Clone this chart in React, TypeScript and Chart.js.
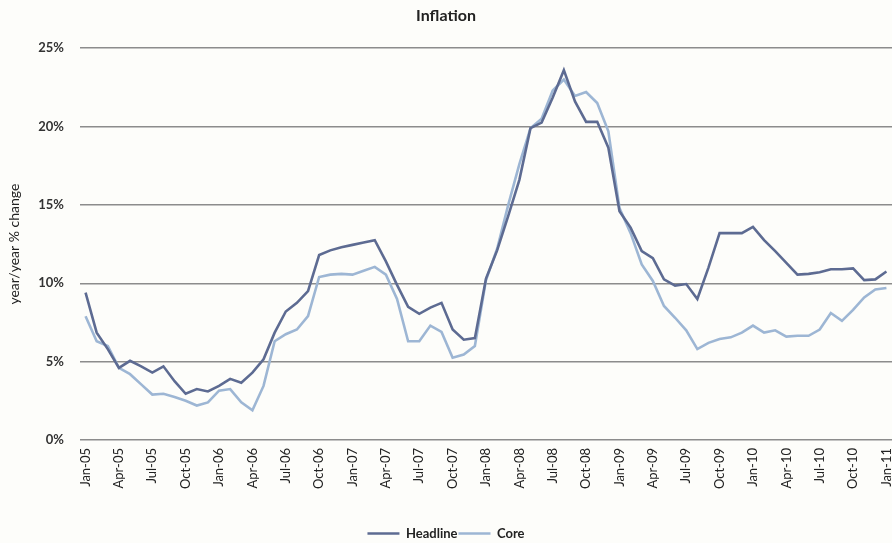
import React, { useEffect, useRef } from "react";
import { Chart, registerables } from "chart.js";

Chart.register(...registerables);

const months: string[] = [
  "Jan-05","Feb-05","Mar-05","Apr-05","May-05","Jun-05","Jul-05","Aug-05","Sep-05","Oct-05","Nov-05","Dec-05",
  "Jan-06","Feb-06","Mar-06","Apr-06","May-06","Jun-06","Jul-06","Aug-06","Sep-06","Oct-06","Nov-06","Dec-06",
  "Jan-07","Feb-07","Mar-07","Apr-07","May-07","Jun-07","Jul-07","Aug-07","Sep-07","Oct-07","Nov-07","Dec-07",
  "Jan-08","Feb-08","Mar-08","Apr-08","May-08","Jun-08","Jul-08","Aug-08","Sep-08","Oct-08","Nov-08","Dec-08",
  "Jan-09","Feb-09","Mar-09","Apr-09","May-09","Jun-09","Jul-09","Aug-09","Sep-09","Oct-09","Nov-09","Dec-09",
  "Jan-10","Feb-10","Mar-10","Apr-10","May-10","Jun-10","Jul-10","Aug-10","Sep-10","Oct-10","Nov-10","Dec-10",
  "Jan-11",
];

const headline: number[] = [
  9.4, 6.85, 5.8, 4.6, 5.05, 4.7, 4.3, 4.7, 3.75, 2.95, 3.25, 3.1,
  3.45, 3.9, 3.65, 4.3, 5.15, 6.85, 8.2, 8.75, 9.5, 11.8, 12.1, 12.3,
  12.45, 12.6, 12.75, 11.4, 9.9, 8.5, 8.05, 8.45, 8.75, 7.05, 6.4, 6.5,
  10.3, 12.1, 14.3, 16.6, 19.9, 20.25, 21.85, 23.6, 21.6, 20.3, 20.3, 18.65,
  14.6, 13.55, 12.05, 11.6, 10.25, 9.85, 9.95, 9.0, 11.0, 13.2, 13.2, 13.2,
  13.6, 12.75, 12.05, 11.3, 10.55, 10.6, 10.7, 10.9, 10.9, 10.95, 10.2, 10.25,
  10.75,
];

const core: number[] = [
  7.9, 6.3, 6.0, 4.6, 4.2, 3.55, 2.9, 2.95, 2.75, 2.5, 2.2, 2.4,
  3.15, 3.25, 2.4, 1.9, 3.45, 6.3, 6.75, 7.05, 7.9, 10.4, 10.55, 10.6,
  10.55, 10.8, 11.05, 10.55, 9.0, 6.3, 6.3, 7.3, 6.9, 5.25, 5.45, 6.0,
  10.2, 12.2, 15.0, 17.6, 19.9, 20.5, 22.3, 23.0, 21.95, 22.2, 21.5, 19.7,
  14.8, 13.2, 11.2, 10.15, 8.55, 7.8, 7.0, 5.8, 6.2, 6.45, 6.55, 6.85,
  7.3, 6.85, 7.0, 6.6, 6.65, 6.65, 7.05, 8.1, 7.6, 8.3, 9.1, 9.6,
  9.7,
];

const yTicks: number[] = [0, 5, 10, 15, 20, 25];

export default function App() {
  const ref = useRef<HTMLCanvasElement | null>(null);

  useEffect(() => {
    document.body.style.margin = "0";
    const canvas = ref.current;
    if (!canvas) return;
    const font = "Lato, 'Open Sans', sans-serif";
    const chart = new Chart(canvas, {
      type: "line",
      data: {
        labels: months,
        datasets: [
          {
            label: "Headline",
            data: headline,
            borderColor: "#5d6b92",
            backgroundColor: "#5d6b92",
            borderWidth: 2.6,
            pointRadius: 0,
            tension: 0,
          },
          {
            label: "Core",
            data: core,
            borderColor: "#9db6d4",
            backgroundColor: "#9db6d4",
            borderWidth: 2.6,
            pointRadius: 0,
            tension: 0,
          },
        ],
      },
      options: {
        responsive: false,
        animation: false,
        layout: { padding: { left: 0, right: 0, top: 0, bottom: -7 } },
        plugins: {
          title: {
            display: true,
            text: "Inflation",
            color: "#222",
            font: { family: font, size: 16, weight: "bold" },
            padding: { top: 6, bottom: 23 },
          },
          legend: {
            position: "bottom",
            labels: {
              usePointStyle: true,
              pointStyle: "line",
              pointStyleWidth: 32,
              boxHeight: 13,
              padding: 1,
              color: "#222",
              font: { family: font, size: 13, weight: "bold" },
            },
          },
          tooltip: { enabled: false },
        },
        scales: {
          x: {
            type: "category",
            offset: true,
            grid: { display: false, drawTicks: false },
            border: { display: false },
            afterFit: (s: any) => {
              s.height = 86;
              s.paddingLeft = 0;
              s.paddingRight = 0;
            },
            ticks: {
              autoSkip: false,
              maxRotation: 90,
              minRotation: 90,
              padding: 8,
              color: "#222",
              font: { family: font, size: 13 },
              callback: (_v: any, i: number) => (i % 3 === 0 ? months[i] : ""),
            },
          },
          y: {
            min: 0,
            max: 25,
            afterFit: (s: any) => {
              s.width = 80;
            },
            afterBuildTicks: (s: any) => {
              s.ticks = yTicks.map((v) => ({ value: v }));
            },
            grid: { color: "#8c8c8c", lineWidth: 1.5, drawTicks: false },
            border: { display: false },
            title: {
              display: true,
              text: "year/year % change",
              color: "#222",
              font: { family: font, size: 14 },
              padding: { top: 6, bottom: 0 },
            },
            ticks: {
              padding: 16,
              color: "#333",
              font: { family: font, size: 13, weight: "bold" },
              callback: (v: any) => v + "%",
            },
          },
        },
      },
    });
    return () => chart.destroy();
  }, []);

  return (
    <div style={{ width: 892, height: 543, background: "#fdfdfa" }}>
      <canvas ref={ref} width={892} height={543} style={{ display: "block" }} />
    </div>
  );
}
